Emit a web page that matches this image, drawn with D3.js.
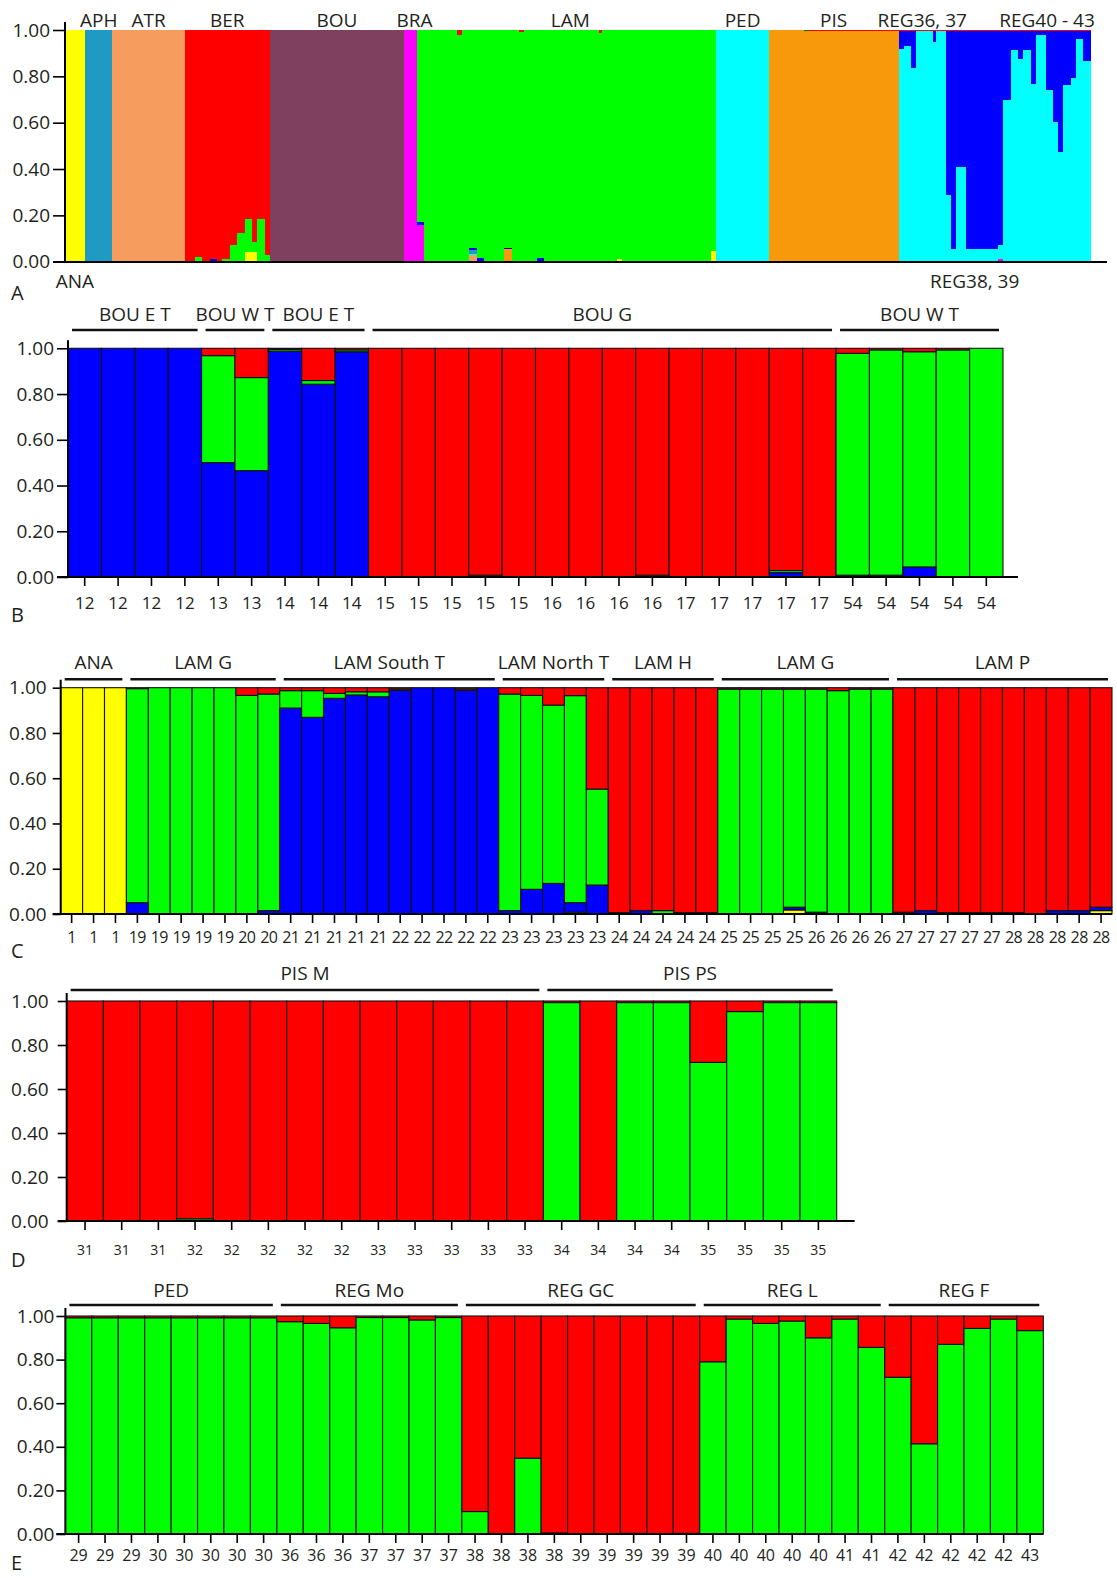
<!DOCTYPE html>
<html><head><meta charset="utf-8">
<script src="https://cdn.jsdelivr.net/npm/d3@7/dist/d3.min.js"></script>
<style>body{margin:0;background:#fff}</style>
</head><body>
<svg id="chart" width="1117" height="1578" xmlns="http://www.w3.org/2000/svg"></svg>
<script>
// ---------------- DATA ----------------
const clusterColors = {Y:"#ffff00", S:"#f79c5f", O:"#f7990a", M:"#ff00ff", C:"#00ffff", T:"#1e9ac3", B:"#0000ff", G:"#00ff00", R:"#ff0000", P:"#7f3f5f"};
const stackOrderA = ["Y","S","O","M","C","T","B","G","R","P"];
const yTickValues = [0, 0.2, 0.4, 0.6, 0.8, 1.0];

// Panel A: population names, label placement, and runs of identical individuals [pop, count, q]
const popNamesA = ["ANA","APH","ATR","BER","BOU","BRA","LAM","PED","PIS","REG36, 37","REG38, 39","REG40 - 43"];
const popLabelSideA = ["bottom","top","top","top","top","top","top","top","top","top","bottom","top"];
const runsA = [
  ["ANA",8,{Y:1}],
  ["APH",11,{T:1}],
  ["ATR",29,{S:1}],
  ["BER",4,{R:1}],["BER",3,{G:.02,R:.98}],["BER",3,{R:1}],["BER",3,{B:.01,R:.99}],["BER",2,{R:1}],
  ["BER",3,{G:.01,R:.99}],["BER",3,{G:.07,R:.93}],["BER",3,{G:.125,R:.875}],["BER",3,{Y:.04,G:.145,R:.815}],
  ["BER",2,{Y:.04,G:.045,R:.915}],["BER",3,{G:.184,R:.816}],["BER",2,{G:.03,R:.97}],
  ["BOU",54,{P:1}],
  ["BRA",5,{M:1}],["BRA",3,{M:.16,B:.01,G:.83}],
  ["LAM",13,{G:1}],["LAM",2,{G:.98,R:.02}],["LAM",3,{G:1}],["LAM",3,{S:.03,T:.015,C:.005,B:.008,G:.942}],
  ["LAM",3,{M:.005,B:.012,G:.983}],["LAM",8,{G:1}],["LAM",3,{Y:.005,O:.05,B:.005,G:.94}],["LAM",3,{G:1}],
  ["LAM",2,{G:.99,R:.01}],["LAM",5,{G:1}],["LAM",3,{M:.005,B:.01,G:.985}],["LAM",22,{G:1}],
  ["LAM",1,{G:.985,R:.015}],["LAM",6,{G:1}],["LAM",2,{Y:.01,G:.99}],["LAM",36,{G:1}],["LAM",2,{Y:.047,G:.953}],
  ["PED",21,{C:1}],
  ["PIS",14,{O:1}],["PIS",2,{O:.99,G:.005,R:.005}],["PIS",36,{O:.995,R:.005}],
  ["REG36, 37",2,{M:.005,C:.914,B:.077,R:.004}],["REG36, 37",3,{C:.93,B:.066,R:.004}],["REG36, 37",2,{C:.837,B:.159,R:.004}],
  ["REG36, 37",7,{C:.996,R:.004}],["REG36, 37",1,{C:.95,B:.046,R:.004}],["REG36, 37",4,{C:.996,R:.004}],
  ["REG38, 39",2,{C:.29,B:.706,R:.004}],["REG38, 39",2,{C:.056,B:.94,R:.004}],["REG38, 39",4,{C:.41,B:.586,R:.004}],
  ["REG38, 39",8,{C:.056,B:.94,R:.004}],["REG38, 39",2,{Y:.005,C:.05,B:.941,R:.004}],["REG38, 39",3,{C:.055,B:.941,R:.004}],
  ["REG38, 39",2,{M:.01,C:.06,B:.926,R:.004}],
  ["REG40 - 43",3,{C:.70,B:.296,R:.004}],["REG40 - 43",3,{C:.914,B:.082,R:.004}],["REG40 - 43",2,{C:.873,B:.123,R:.004}],
  ["REG40 - 43",3,{C:.914,B:.082,R:.004}],["REG40 - 43",2,{C:.765,B:.231,R:.004}],["REG40 - 43",4,{C:.978,B:.018,R:.004}],
  ["REG40 - 43",3,{C:.741,B:.255,R:.004}],["REG40 - 43",2,{C:.603,B:.393,R:.004}],["REG40 - 43",2,{C:.475,B:.521,R:.004}],
  ["REG40 - 43",3,{C:.763,B:.233,R:.004}],["REG40 - 43",2,{C:.794,B:.202,R:.004}],["REG40 - 43",3,{C:.96,B:.036,R:.004}],
  ["REG40 - 43",3,{C:.868,B:.128,R:.004}]
];

// Panel B
const labelsB = [12,12,12,12,13,13,14,14,14,15,15,15,15,15,16,16,16,16,17,17,17,17,17,54,54,54,54,54];
const blueB  = [1,1,1,1,.50,.465,.988,.843,.985, 0,0,0,0,0, 0,0,0,0, 0,0,0,.019,0, .008,.008,.044,0,0];
const greenB = [0,0,0,0,.468,.407,.007,.016,.008, 0,0,0,.008,0, 0,0,0,.008, 0,0,0,.009,0, .970,.985,.941,.993,1];
const redB   = [0,0,0,0,.032,.128,.005,.141,.007, 1,1,1,.992,1, 1,1,1,.992, 1,1,1,.972,1, .022,.007,.015,.007,0];
const groupsB = [["BOU E T",4],["BOU W T",2],["BOU E T",3],["BOU G",14],["BOU W T",5]];

// Panel C
const labelsC = [1,1,1,19,19,19,19,19,20,20,21,21,21,21,21,22,22,22,22,22,23,23,23,23,23,24,24,24,24,24,25,25,25,25,26,26,26,26,27,27,27,27,27,28,28,28,28,28];
const yellowC = [1,1,1,0,0,0,0,0,0,0, 0,0,0,0,0,0,0,0,0,0, 0,0,0,.008,0,0,0,0,0,0, 0,0,0,.018,0,0,0,0,0,0, 0,0,0,0,0,0,0,.015];
const blueC   = [0,0,0,.05,0,0,0,0,0,.015, .910,.869,.953,.968,.960,.988,1,1,.988,1, .015,.109,.135,.042,.128,0,.015,0,0,0, 0,0,0,.012,.008,0,0,0,.008,.015, 0,0,0,0,0,.015,.015,.015];
const greenC  = [0,0,0,.946,1,1,1,1,.966,.957, .077,.118,.022,.014,.022,.006,0,0,.006,0, .957,.857,.788,.915,.424,.006,0,.015,.006,.006, .994,.994,.994,.964,.986,.987,.994,.994,0,0, .006,.006,.006,.006,0,0,0,0];
const redC    = [0,0,0,.004,0,0,0,0,.034,.028, .013,.013,.025,.018,.018,.006,0,0,.006,0, .028,.034,.077,.035,.448,.994,.985,.985,.994,.994, .006,.006,.006,.006,.006,.013,.006,.006,.992,.985, .994,.994,.994,.994,1,.985,.985,.97];
const groupsC = [["ANA",3],["LAM G",7],["LAM South T",10],["LAM North T",5],["LAM H",5],["LAM G",8],["LAM P",10]];

// Panel D
const labelsD = [31,31,31,32,32,32,32,32,33,33,33,33,33,34,34,34,34,35,35,35,35];
const greenD = [0,0,0,.01,0,0,0,0,0,0,0,0,0, .993,0,.993,.993,.721,.952,.993,.993];
const redD   = [1,1,1,.99,1,1,1,1,1,1,1,1,1, .007,1,.007,.007,.279,.048,.007,.007];
const groupsD = [["PIS M",13],["PIS PS",8]];

// Panel E
const labelsE = [29,29,29,30,30,30,30,30,36,36,36,37,37,37,37,38,38,38,38,39,39,39,39,39,40,40,40,40,40,41,41,42,42,42,42,42,43];
const greenE = [.992,.992,.992,.992,.992,.992,.992,.992, .974,.966,.946, .993,.993,.982,.993, .103,0,.348,.005, 0,0,.003,0,.003, .79,.986,.966,.977,.90, .986,.856, .719,.414,.87,.943,.986, .933];
const redE   = [.008,.008,.008,.008,.008,.008,.008,.008, .026,.034,.054, .007,.007,.018,.007, .897,1,.652,.995, 1,1,.997,1,.997, .21,.014,.034,.023,.10, .014,.144, .281,.586,.13,.057,.014, .067];
const groupsE = [["PED",8],["REG Mo",7],["REG GC",9],["REG L",7],["REG F",6]];

// ---------------- DRAWING ----------------
const FONT = '"Open Sans", "Noto Sans", sans-serif';
const TXT = "#231f20";
const svg = d3.select("#chart");
const fmt = d3.format(".2f");

function drawYAxis(g, y, x, size, pad, fs) {
  const a = g.append("g").attr("transform", `translate(${x},0)`)
    .call(d3.axisLeft(y).tickValues(yTickValues).tickFormat(fmt).tickSize(size).tickPadding(pad));
  a.select(".domain").remove();
  a.attr("font-family", FONT).attr("font-size", fs);
  a.selectAll("line").attr("stroke", "#000").attr("stroke-width", 1.6);
  a.selectAll("text").attr("fill", TXT);
}

function letter(t, yb) {
  svg.append("text").attr("x", 11).attr("y", yb).attr("font-family", FONT).attr("font-size", 20)
    .attr("fill", TXT).text(t);
}

// ---- Panel A ----
(function () {
  const nA = d3.sum(runsA, r => r[1]);
  const x = d3.scaleBand().domain(d3.range(nA)).range([65, 1090.7]).padding(0);
  const y = d3.scaleLinear().domain([0, 1]).range([261.7, 30]);
  const g = svg.append("g");
  const segs = [];
  const popSpan = {};
  let idx = 0;
  runsA.forEach(([pop, n, q]) => {
    let acc = 0;
    stackOrderA.forEach(k => {
      if (q[k]) { segs.push({i: idx, n, k, y0: acc, y1: acc + q[k]}); acc += q[k]; }
    });
    if (!popSpan[pop]) popSpan[pop] = [idx, idx + n];
    popSpan[pop][1] = idx + n;
    idx += n;
  });
  g.append("g").attr("shape-rendering", "crispEdges")
    .selectAll("rect").data(segs).join("rect")
    .attr("x", d => x(d.i)).attr("width", d => x.step() * d.n + 0.5)
    .attr("y", d => y(d.y1)).attr("height", d => Math.max(0.6, y(d.y0) - y(d.y1)))
    .attr("fill", d => clusterColors[d.k]);
  drawYAxis(g, y, 65, 12, 3, 19);
  g.append("line").attr("x1", 65).attr("x2", 65).attr("y1", 22).attr("y2", 262.7).attr("stroke", "#000").attr("stroke-width", 2);
  g.append("line").attr("x1", 53).attr("x2", 1107).attr("y1", 262).attr("y2", 262).attr("stroke", "#000").attr("stroke-width", 2);
  popNamesA.forEach((p, i) => {
    const [s, e] = popSpan[p];
    const cx = (x(s) + x(e - 1) + x.bandwidth()) / 2;
    g.append("text").attr("x", cx).attr("y", popLabelSideA[i] === "top" ? 27 : 288)
      .attr("text-anchor", "middle").attr("font-family", FONT).attr("font-size", 19).attr("fill", TXT).text(p);
  });
  letter("A", 300);
})();

// ---- Panels B-E ----
function barPanel(p) {
  const n = p.labels.length;
  const x = d3.scaleBand().domain(d3.range(n)).range([p.x0, p.x1]).padding(0);
  const y = d3.scaleLinear().domain([0, 1]).range([p.yBot, p.yTop]);
  const g = svg.append("g");
  const segs = [];
  d3.range(n).forEach(i => {
    let acc = 0;
    p.order.forEach(k => {
      const v = p.series[k][i];
      if (v > 0) { segs.push({i, k, y0: acc, y1: acc + v}); acc += v; }
    });
  });
  g.selectAll("rect").data(segs).join("rect")
    .attr("x", d => x(d.i)).attr("width", x.bandwidth())
    .attr("y", d => y(d.y1)).attr("height", d => y(d.y0) - y(d.y1))
    .attr("fill", d => clusterColors[d.k]).attr("stroke", "#111").attr("stroke-width", 1.1);
  drawYAxis(g, y, p.x0, p.yTickSize, p.yTickPad, 19);
  const xa = g.append("g").attr("transform", `translate(0,${p.yBot})`)
    .call(d3.axisBottom(x).tickFormat(i => p.labels[i]).tickSize(9)
      .tickPadding(p.labelCenter - 0.35 * p.xfs - 9));
  xa.select(".domain").remove();
  xa.attr("font-family", FONT).attr("font-size", p.xfs);
  xa.selectAll("line").attr("stroke", "#000").attr("stroke-width", 1.6);
  xa.selectAll("text").attr("fill", TXT).attr("letter-spacing", p.ls || 0);
  g.append("line").attr("x1", p.x0).attr("x2", p.x0).attr("y1", p.yTop - 8).attr("y2", p.yBot + 1)
    .attr("stroke", "#000").attr("stroke-width", 2);
  g.append("line").attr("x1", p.x0 - p.yTickSize).attr("x2", p.x1 + p.ext).attr("y1", p.yBot).attr("y2", p.yBot)
    .attr("stroke", "#000").attr("stroke-width", 2);
  let s = 0;
  p.groups.forEach(([name, cnt]) => {
    const xs = x(s) + 4, xe = x(s + cnt - 1) + x.bandwidth() - 4;
    g.append("line").attr("x1", xs).attr("x2", xe).attr("y1", p.bracketY).attr("y2", p.bracketY)
      .attr("stroke", "#111").attr("stroke-width", 2.5);
    g.append("text").attr("x", (xs + xe) / 2).attr("y", p.groupCenter + 0.36 * 19)
      .attr("text-anchor", "middle").attr("font-family", FONT).attr("font-size", 19).attr("fill", TXT).text(name);
    s += cnt;
  });
  letter(p.letter, p.letterY);
}

barPanel({labels: labelsB, series: {B: blueB, G: greenB, R: redB}, order: ["B","G","R"],
  x0: 68, x1: 1003, yTop: 348.3, yBot: 577, yTickSize: 11, yTickPad: 3, xfs: 17, labelCenter: 26,
  ext: 15, bracketY: 330, groupCenter: 314, letter: "B", letterY: 622, groups: groupsB});

barPanel({labels: labelsC, series: {Y: yellowC, B: blueC, G: greenC, R: redC}, order: ["Y","B","G","R"],
  x0: 60.7, x1: 1112, yTop: 687.7, yBot: 914, yTickSize: 8, yTickPad: 6, xfs: 16, labelCenter: 23, ls: -0.6,
  ext: 0, bracketY: 679.3, groupCenter: 661.7, letter: "C", letterY: 958, groups: groupsC});

barPanel({labels: labelsD, series: {G: greenD, R: redD}, order: ["G","R"],
  x0: 66.7, x1: 836.7, yTop: 1001, yBot: 1221, yTickSize: 9, yTickPad: 9, xfs: 14, labelCenter: 29,
  ext: 18, bracketY: 990, groupCenter: 973, letter: "D", letterY: 1267, groups: groupsD});

barPanel({labels: labelsE, series: {G: greenE, R: redE}, order: ["G","R"],
  x0: 65.4, x1: 1043.3, yTop: 1316, yBot: 1534, yTickSize: 9, yTickPad: 2, xfs: 16, labelCenter: 21,
  ext: 0, bracketY: 1305, groupCenter: 1290, letter: "E", letterY: 1570, groups: groupsE});
</script>
</body></html>
